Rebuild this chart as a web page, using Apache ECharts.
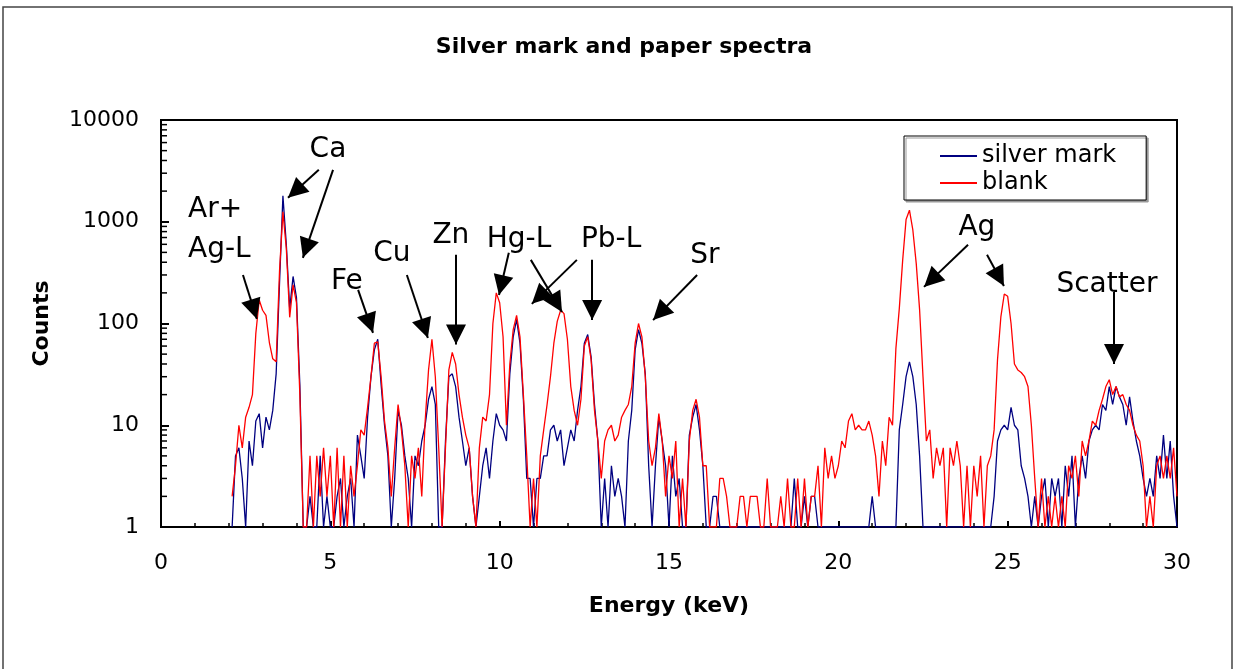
<!DOCTYPE html>
<html>
<head>
<meta charset="utf-8">
<title>Silver mark and paper spectra</title>
<script src="https://cdn.jsdelivr.net/npm/echarts@6.0.0/dist/echarts.min.js"></script>
<style>
html, body { margin: 0; padding: 0; background: #fff; }
#chartBox { width: 1237px; height: 669px; }
</style>
</head>
<body>
<div id="chartBox"></div>
<script>
// channel grid of both spectra (keV)
const energyStart = 2.1
const energyStep = 0.1

// counts, 10 channels per row: 2.1-3.0, 3.1-4.0, ...
const silverMark = [
  1, 5, 6, 3, 1, 7, 4, 11, 13, 6,
  12, 9, 14, 32, 250, 1800, 600, 140, 290, 180,
  25, 1, 1, 2, 1, 1, 5, 1, 2, 1,
  1, 2, 3, 1, 2, 3, 1, 8, 5, 3,
  12, 30, 55, 70, 25, 10, 5, 1, 3, 14,
  10, 5, 3, 1, 5, 4, 7, 10, 18, 24,
  16, 1, 1, 7, 30, 32, 24, 12, 7, 4,
  6, 2, 1, 2, 4, 6, 3, 7, 13, 10,
  9, 7, 32, 74, 110, 64, 18, 3, 3, 1,
  3, 3, 5, 5, 9, 10, 7, 9, 4, 6,
  9, 7, 14, 24, 64, 78, 47, 16, 7, 1,
  3, 1, 4, 2, 3, 2, 1, 7, 14, 55,
  87, 64, 32, 4, 1, 4, 12, 7, 4, 1,
  5, 2, 3, 1, 1, 8, 12, 16, 9, 4,
  1, 1, 2, 2, 1, 1, 1, 1, 1, 1,
  1, 1, 1, 1, 1, 1, 1, 1, 1, 1,
  1, 1, 1, 1, 1, 1, 3, 1, 1, 2,
  1, 2, 2, 1, 1, 1, 1, 1, 1, 1,
  1, 1, 1, 1, 1, 1, 1, 1, 1, 2,
  1, 1, 1, 1, 1, 1, 1, 9, 16, 30,
  42, 30, 16, 5, 1, 1, 1, 1, 1, 1,
  1, 1, 1, 1, 1, 1, 1, 1, 1, 1,
  1, 1, 1, 1, 1, 2, 7, 9, 10, 9,
  15, 10, 9, 4, 3, 2, 1, 2, 1, 2,
  3, 1, 3, 2, 3, 1, 4, 2, 5, 1,
  3, 5, 3, 7, 9, 10, 9, 16, 14, 24,
  16, 24, 19, 16, 10, 19, 11, 7, 5, 3,
  2, 3, 2, 5, 3, 8, 3, 7, 2, 1
]

const blank = [
  2, 4, 10, 6, 12, 15, 20, 80, 170, 135,
  120, 65, 45, 42, 330, 1250, 550, 115, 240, 160,
  20, 1, 1, 5, 1, 5, 2, 6, 2, 5,
  1, 6, 1, 5, 1, 4, 2, 4, 9, 8,
  15, 30, 64, 66, 30, 11, 6, 2, 6, 16,
  9, 4, 1, 5, 3, 6, 2, 11, 35, 70,
  30, 6, 1, 6, 35, 52, 40, 20, 12, 8,
  6, 2, 1, 6, 12, 11, 20, 100, 200, 160,
  74, 10, 40, 87, 120, 74, 20, 5, 1, 3,
  1, 5, 9, 16, 30, 64, 105, 135, 125, 70,
  24, 14, 10, 18, 60, 74, 44, 14, 7, 3,
  7, 9, 10, 7, 8, 12, 14, 16, 24, 64,
  100, 74, 30, 7, 4, 6, 13, 7, 2, 5,
  3, 7, 1, 3, 1, 7, 14, 18, 12, 4,
  4, 1, 1, 1, 3, 3, 2, 1, 1, 1,
  2, 2, 1, 2, 2, 2, 1, 1, 3, 1,
  1, 1, 2, 1, 3, 1, 1, 3, 1, 3,
  1, 2, 2, 4, 1, 6, 3, 5, 3, 4,
  7, 6, 11, 13, 9, 10, 9, 9, 11, 8,
  5, 2, 7, 4, 12, 10, 57, 140, 420, 1050,
  1300, 830, 390, 136, 30, 7, 9, 3, 6, 4,
  6, 1, 6, 4, 7, 4, 1, 4, 1, 4,
  2, 5, 1, 4, 5, 9, 44, 117, 195, 185,
  100, 40, 35, 33, 30, 24, 10, 3, 1, 3,
  1, 2, 1, 2, 1, 2, 1, 4, 3, 5,
  2, 7, 5, 7, 11, 10, 14, 18, 24, 28,
  20, 24, 19, 20, 16, 14, 10, 8, 7, 4,
  1, 2, 1, 4, 5, 3, 5, 3, 6, 2
]

// log axis minor ticks
const yMinorTicks = [2, 3, 4, 5, 6, 7, 8, 9, 20, 30, 40, 50, 60, 70, 80, 90,
  200, 300, 400, 500, 600, 700, 800, 900, 2000, 3000, 4000, 5000, 6000, 7000, 8000, 9000]

// element labels: energy, counts, text
const peakLabels = [
  [4.93, 5090, 'Ca'], [0.80, 1310, 'Ar+'], [0.80, 530, 'Ag-L'], [5.49, 257, 'Fe'],
  [6.82, 484, 'Cu'], [8.56, 727, 'Zn'], [10.57, 664, 'Hg-L'], [13.29, 664, 'Pb-L'],
  [16.06, 462, 'Sr'], [24.09, 870, 'Ag'], [27.93, 240, 'Scatter']
]
const leftAligned = ['Ar+', 'Ag-L']

// arrows: from energy, from counts, to energy, to counts
const peakArrows = [
  [2.42, 300, 2.83, 111], [4.66, 3240, 3.75, 1720], [5.08, 3240, 4.19, 442],
  [5.82, 214, 6.26, 81], [7.26, 300, 7.88, 72], [8.71, 473, 8.71, 62],
  [10.27, 495, 9.98, 191], [10.92, 422, 11.84, 130], [12.28, 422, 10.95, 156],
  [12.73, 422, 12.73, 108], [15.83, 300, 14.53, 108], [23.83, 593, 22.53, 229],
  [24.39, 473, 24.89, 234], [28.14, 204, 28.14, 40]
]

const energies = silverMark.map((v, i) => +(energyStart + i * energyStep).toFixed(2))

let myChart = echarts.init(document.getElementById('chartBox'))
myChart.setOption({
  animation: false,
  textStyle: { fontFamily: 'DejaVu Sans', color: '#000' },
  title: {
    text: 'Silver mark and paper spectra',
    left: 624,
    top: 36,
    padding: 0,
    textAlign: 'center',
    textStyle: { fontSize: 22, fontWeight: 'bold', fontFamily: 'DejaVu Sans', color: '#000' }
  },
  graphic: [{
    type: 'rect',
    shape: { x: 3, y: 7, width: 1229, height: 700 },
    style: { fill: 'none', stroke: '#444', lineWidth: 1.5 },
    silent: true
  }],
  legend: {
    data: ['silver mark', 'blank'],
    orient: 'vertical',
    left: 904,
    top: 136,
    padding: [8, 30, 5, 36],
    itemGap: 3,
    itemWidth: 37,
    itemHeight: 2,
    icon: 'rect',
    backgroundColor: '#fff',
    borderColor: '#000',
    borderWidth: 1,
    shadowColor: '#999',
    shadowOffsetX: 2,
    shadowOffsetY: 2,
    shadowBlur: 0,
    textStyle: { fontSize: 24, fontFamily: 'DejaVu Sans', color: '#000' }
  },
  grid: {
    left: 161,
    right: 60,
    top: 120,
    bottom: 142,
    show: true,
    borderColor: '#000',
    borderWidth: 2,
    backgroundColor: '#fff'
  },
  xAxis: {
    type: 'value',
    min: 0,
    max: 30,
    interval: 5,
    name: 'Energy (keV)',
    nameLocation: 'middle',
    nameGap: 68,
    nameTextStyle: { fontSize: 22, fontWeight: 'bold' },
    axisLine: { lineStyle: { color: '#000', width: 2 } },
    axisTick: { inside: true, length: 6, lineStyle: { color: '#000', width: 2 } },
    minorTick: { show: true, splitNumber: 5, length: 4, lineStyle: { color: '#000', width: 1.5 } },
    axisLabel: { fontSize: 22, margin: 25, color: '#000' },
    splitLine: { show: false }
  },
  yAxis: {
    type: 'log',
    logBase: 10,
    min: 1,
    max: 10000,
    name: 'Counts',
    nameLocation: 'middle',
    nameGap: 108,
    nameTextStyle: { fontSize: 22, fontWeight: 'bold' },
    axisLine: { lineStyle: { color: '#000', width: 2 } },
    axisTick: { inside: true, length: 8, lineStyle: { color: '#000', width: 2 } },
    axisLabel: { fontSize: 22, margin: 22, color: '#000', formatter: v => String(Math.round(v)) },
    splitLine: { show: false }
  },
  series: [
    {
      name: 'silver mark',
      type: 'line',
      symbol: 'none',
      color: '#000080',
      lineStyle: { width: 1.3, color: '#000080' },
      data: energies.map((e, i) => [e, silverMark[i]])
    },
    {
      name: 'blank',
      type: 'line',
      symbol: 'none',
      color: '#ff0000',
      lineStyle: { width: 1.3, color: '#ff0000' },
      data: energies.map((e, i) => [e, blank[i]]),
      markLine: {
        silent: true,
        symbol: ['none', 'triangle'],
        symbolSize: 20,
        symbolOffset: [0, [0, 10]],
        label: { show: false },
        lineStyle: { color: '#000', width: 2, type: 'solid' },
        itemStyle: { color: '#000' },
        data: peakArrows.map(a => [{ coord: [a[0], a[1]] }, { coord: [a[2], a[3]] }])
      }
    },
    {
      name: 'labels',
      type: 'scatter',
      silent: true,
      symbolSize: 1,
      itemStyle: { color: 'rgba(0,0,0,0)', opacity: 1 },
      label: {
        show: true,
        position: 'inside',
        formatter: '{b}',
        fontSize: 28,
        color: '#000',
        opacity: 1,
        textBorderWidth: 0,
        fontFamily: 'DejaVu Sans'
      },
      data: peakLabels.map(p => ({
        name: p[2],
        value: [p[0], p[1]],
        label: { align: leftAligned.includes(p[2]) ? 'left' : 'center' }
      }))
    },
    {
      name: 'minor ticks',
      type: 'custom',
      silent: true,
      clip: false,
      data: yMinorTicks.map(v => [0, v]),
      renderItem (params, api) {
        let p = api.coord([0, api.value(1)])
        return {
          type: 'line',
          shape: { x1: p[0], y1: p[1], x2: p[0] + 6, y2: p[1] },
          style: { stroke: '#000', lineWidth: 1.5 }
        }
      }
    }
  ]
})
</script>
</body>
</html>
